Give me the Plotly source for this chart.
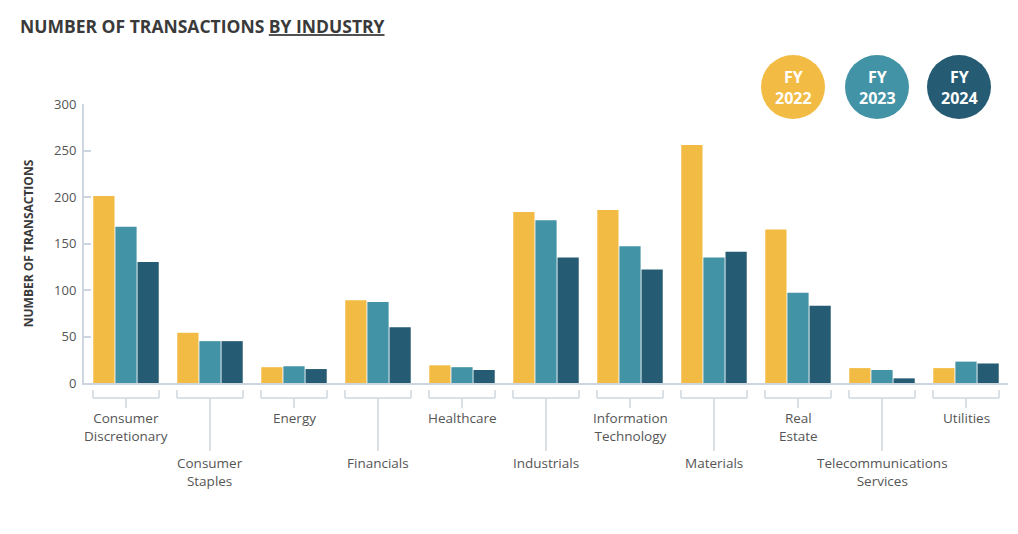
import plotly.graph_objects as go

# data
industries = ["Consumer Discretionary", "Consumer Staples", "Energy", "Financials",
              "Healthcare", "Industrials", "Information Technology", "Materials",
              "Real Estate", "Telecommunications Services", "Utilities"]
labels = ["Consumer<br>Discretionary", "Consumer<br>Staples", "Energy", "Financials",
          "Healthcare", "Industrials", "Information<br>Technology", "Materials",
          "Real<br>Estate", "Telecommunications<br>Services", "Utilities"]
fy2022 = [201, 54, 17, 89, 19, 184, 186, 256, 165, 16, 16]
fy2023 = [168, 45, 18, 87, 17, 175, 147, 135, 97, 14, 23]
fy2024 = [130, 45, 15, 60, 14, 135, 122, 141, 83, 5, 21]
years = ["FY 2022", "FY 2023", "FY 2024"]
colors = ["#F2BB44", "#4393A6", "#255C73"]

# the page body adds an 8px offset, so positions below are screen pixels minus 8
OFF = 8
W, H = 1018, 534
ML, MR, MT, MB = 84 - OFF, 10 + OFF, 104 - OFF, 151 + OFF
plot_h = H - MT - MB
plot_w = W - ML - MR
FONT = "Open Sans"
GREY = "#cdd6de"


def py(pix):
    # screen pixel row -> paper y
    return (H - MB - (pix - OFF)) / plot_h


def px(pix):
    return (pix - OFF - ML) / plot_w


fig = go.Figure()
for name, vals, col in zip(years, [fy2022, fy2023, fy2024], colors):
    fig.add_trace(go.Bar(x=industries, y=vals, name=name, marker_color=col,
                         marker_line_width=0))

shapes = []
annotations = []
half = 0.393
for i, (ind, lab) in enumerate(zip(industries, labels)):
    low = i % 2 == 1
    stem_end = 451 if low else 408
    line = dict(color=GREY, width=1.5)
    shapes.append(dict(type="line", xref="x", yref="paper", x0=i - half, x1=i + half,
                       y0=py(398), y1=py(398), line=line))
    shapes.append(dict(type="line", xref="x", yref="paper", x0=i - half, x1=i - half,
                       y0=py(390), y1=py(398), line=line))
    shapes.append(dict(type="line", xref="x", yref="paper", x0=i + half, x1=i + half,
                       y0=py(390), y1=py(398), line=line))
    shapes.append(dict(type="line", xref="x", yref="paper", x0=i, x1=i,
                       y0=py(398), y1=py(stem_end), line=line))
    annotations.append(dict(x=i, y=py(452 if low else 407), xref="x", yref="paper",
                            text=lab, showarrow=False, yanchor="top", xanchor="center",
                            font=dict(family=FONT, size=13.5, color="#555555")))

# legend bubbles
for name, col, cx in zip(years, colors, [793, 877, 959]):
    shapes.append(dict(type="circle", xref="paper", yref="paper",
                       xsizemode="pixel", ysizemode="pixel",
                       xanchor=px(cx), yanchor=py(87),
                       x0=-32, x1=32, y0=-32, y1=32,
                       fillcolor=col, line_width=0))
    annotations.append(dict(x=px(cx), y=py(88), xref="paper", yref="paper",
                            text="<b>" + name.replace(" ", "<br>") + "</b>",
                            showarrow=False, xanchor="center", yanchor="middle",
                            font=dict(family=FONT, size=16, color="white")))

fig.update_layout(
    width=W, height=H,
    margin=dict(l=ML, r=MR, t=MT, b=MB),
    plot_bgcolor="white", paper_bgcolor="white",
    barmode="group", bargap=0.21, bargroupgap=0.04,
    showlegend=False,
    title=dict(text="<b>NUMBER OF TRANSACTIONS <span style='text-decoration:underline'>BY INDUSTRY</span></b>",
               x=(20 - OFF) / W, xanchor="left", xref="container",
               y=1 - (27 - OFF) / H, yanchor="middle", yref="container",
               font=dict(family=FONT, size=17.5, color="#3a3a3a")),
    shapes=shapes, annotations=annotations,
)
fig.update_xaxes(range=[-0.5, 10.5], showline=True, linecolor=GREY, linewidth=2,
                 showticklabels=False, ticks="", showgrid=False)
fig.update_yaxes(range=[0, 300], tickvals=[0, 50, 100, 150, 200, 250, 300],
                 ticks="inside", ticklen=7, tickwidth=2, tickcolor=GREY,
                 showline=True, linecolor=GREY, linewidth=2,
                 showgrid=False, zeroline=False, ticklabelstandoff=3,
                 tickfont=dict(family=FONT, size=13, color="#555555"),
                 title=dict(text="<b>NUMBER OF TRANSACTIONS</b>", standoff=18,
                            font=dict(family=FONT, size=12, color="#3a3a3a")))

fig.write_html("out.html")
